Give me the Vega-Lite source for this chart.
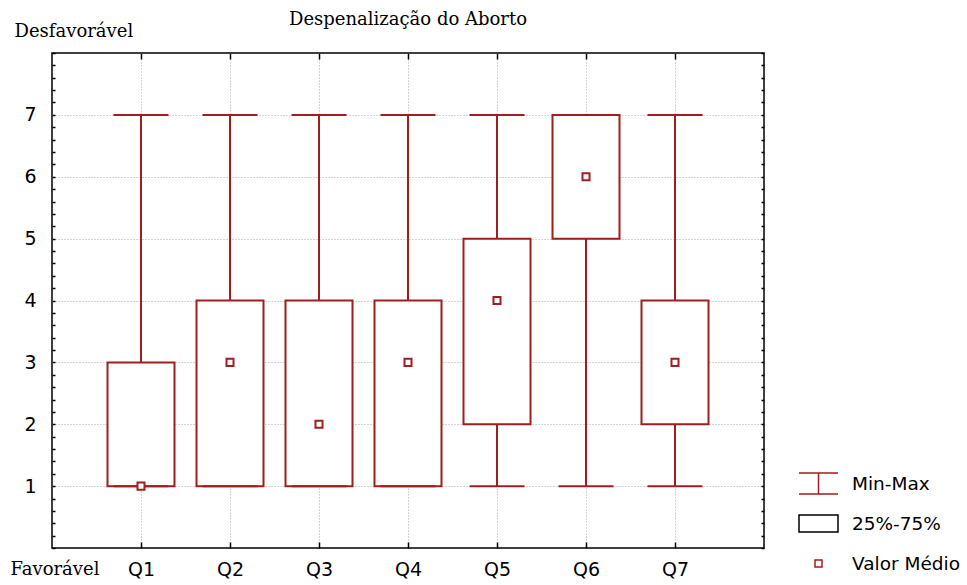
{
  "$schema": "https://vega.github.io/schema/vega-lite/v6.json",
  "width": 712,
  "height": 495,
  "autosize": {"type": "none"},
  "padding": {"left": 52, "top": 53, "right": 203, "bottom": 37},
  "background": "white",
  "title": {"text": "Despenalização do Aborto", "font": "DejaVu Serif", "fontSize": 18, "fontWeight": "normal", "color": "#000", "anchor": "middle", "offset": 0, "dy": 7},
  "config": {
    "view": {"stroke": "#000", "strokeWidth": 1.5},
    "axis": {"domain": false, "tickColor": "#000", "tickWidth": 1.5, "labelColor": "#000", "gridColor": "#a8a8a8", "gridDash": [1, 2], "gridWidth": 1}
  },
  "data": {
    "values": [
      {"q": 1, "min": 1, "max": 7, "lo": 1, "hi": 3, "mean": 1, "leg": "Valor Médio"},
      {"q": 2, "min": 1, "max": 7, "lo": 1, "hi": 4, "mean": 3, "leg": "Valor Médio"},
      {"q": 3, "min": 1, "max": 7, "lo": 1, "hi": 4, "mean": 2, "leg": "Valor Médio"},
      {"q": 4, "min": 1, "max": 7, "lo": 1, "hi": 4, "mean": 3, "leg": "Valor Médio"},
      {"q": 5, "min": 1, "max": 7, "lo": 2, "hi": 5, "mean": 4, "leg": "Valor Médio"},
      {"q": 6, "min": 1, "max": 7, "lo": 5, "hi": 7, "mean": 6, "leg": "Valor Médio"},
      {"q": 7, "min": 1, "max": 7, "lo": 2, "hi": 4, "mean": 3, "leg": "Valor Médio"}
    ]
  },
  "layer": [
    {
      "mark": {"type": "rule", "color": "#A01E1E", "strokeWidth": 2},
      "encoding": {
        "x": {"field": "q", "type": "quantitative", "scale": {"domain": [0, 8], "nice": false, "zero": false, "padding": 0},
              "axis": {"orient": "top", "values": [1, 2, 3, 4, 5, 6, 7], "labels": false, "tickSize": -6, "grid": false, "title": null}},
        "y": {"field": "min", "type": "quantitative", "scale": {"domain": [0, 8], "nice": false, "padding": 0},
              "axis": {"orient": "right", "values": [0,0.2,0.4,0.6,0.8,1,1.2,1.4,1.6,1.8,2,2.2,2.4,2.6,2.8,3,3.2,3.4,3.6,3.8,4,4.2,4.4,4.6,4.8,5,5.2,5.4,5.6,5.8,6,6.2,6.4,6.6,6.8,7,7.2,7.4,7.6,7.8,8], "labels": false, "tickSize": -3, "grid": false, "title": null}},
        "y2": {"field": "max"}
      }
    },
    {
      "mark": {"type": "bar", "width": 67, "fill": "white", "stroke": "#A01E1E", "strokeWidth": 2},
      "encoding": {
        "x": {"field": "q", "type": "quantitative",
              "axis": {"orient": "bottom", "values": [1, 2, 3, 4, 5, 6, 7], "labelExpr": "'Q' + datum.value", "tickSize": -6, "labelPadding": 27, "labelFont": "DejaVu Sans", "labelFontSize": 19, "labelBaseline": "middle",
                       "grid": true, "title": "Favorável", "titleX": -42, "titleY": 21, "titleAlign": "left", "titleBaseline": "middle", "titleFont": "DejaVu Serif", "titleFontSize": 18, "titleFontWeight": "normal", "titleColor": "#000"}},
        "y": {"field": "lo", "type": "quantitative",
              "axis": {"orient": "left", "values": [0,0.2,0.4,0.6,0.8,1,1.2,1.4,1.6,1.8,2,2.2,2.4,2.6,2.8,3,3.2,3.4,3.6,3.8,4,4.2,4.4,4.6,4.8,5,5.2,5.4,5.6,5.8,6,6.2,6.4,6.6,6.8,7,7.2,7.4,7.6,7.8,8],
                       "labelExpr": "datum.value >= 1 && datum.value <= 7 && datum.value % 1 == 0 ? datum.value : ''",
                       "tickSize": -3, "labelPadding": 19, "labelFont": "DejaVu Sans", "labelFontSize": 19,
                       "grid": true, "gridOpacity": {"condition": {"test": "datum.value >= 1 && datum.value <= 7 && datum.value % 1 == 0", "value": 1}, "value": 0},
                       "title": "Desfavorável", "titleAngle": 0, "titleX": -38, "titleY": -22, "titleAlign": "left", "titleBaseline": "middle", "titleFont": "DejaVu Serif", "titleFontSize": 18, "titleFontWeight": "normal", "titleColor": "#000"}},
        "y2": {"field": "hi"}
      }
    },
    {
      "mark": {"type": "tick", "orient": "horizontal", "color": "#A01E1E", "size": 55, "thickness": 2, "opacity": 1},
      "encoding": {
        "x": {"field": "q", "type": "quantitative", "axis": null},
        "y": {"field": "min", "type": "quantitative", "axis": null}
      }
    },
    {
      "mark": {"type": "tick", "orient": "horizontal", "color": "#A01E1E", "size": 55, "thickness": 2, "opacity": 1},
      "encoding": {
        "x": {"field": "q", "type": "quantitative", "axis": null},
        "y": {"field": "max", "type": "quantitative", "axis": null}
      }
    },
    {
      "mark": {"type": "point", "fill": "white", "filled": false, "strokeWidth": 2, "opacity": 1, "size": 1521},
      "encoding": {
        "x": {"field": "q", "type": "quantitative", "axis": null},
        "y": {"field": "mean", "type": "quantitative", "axis": null},
        "shape": {"field": "leg", "type": "nominal",
                  "scale": {"domain": ["Min-Max", "25%-75%", "Valor Médio"], "range": ["M-1,-0.54H1M0,-0.54V0.54M-1,0.54H1", "M-1,-0.43H1V0.43H-1Z", "M-0.18,-0.18H0.18V0.18H-0.18Z"]},
                  "legend": {"orient": "none", "legendX": 746, "legendY": 410, "title": null, "padding": 0, "rowPadding": 5, "gridAlign": "all", "labelOffset": 13, "symbolSize": 1521,
                             "labelFont": "DejaVu Sans", "labelFontSize": 18.5, "labelColor": "#000", "symbolStrokeWidth": 1.5}},
        "stroke": {"field": "leg", "type": "nominal", "scale": {"domain": ["Min-Max", "25%-75%", "Valor Médio"], "range": ["#A01E1E", "#000000", "#A01E1E"]},
                   "legend": {"orient": "none", "legendX": 746, "legendY": 410, "title": null, "padding": 0, "rowPadding": 5, "gridAlign": "all", "labelOffset": 13, "symbolSize": 1521,
                             "labelFont": "DejaVu Sans", "labelFontSize": 18.5, "labelColor": "#000", "symbolStrokeWidth": 1.5}}
      }
    }
  ],
  "resolve": {"axis": {"x": "independent", "y": "independent"}}
}
